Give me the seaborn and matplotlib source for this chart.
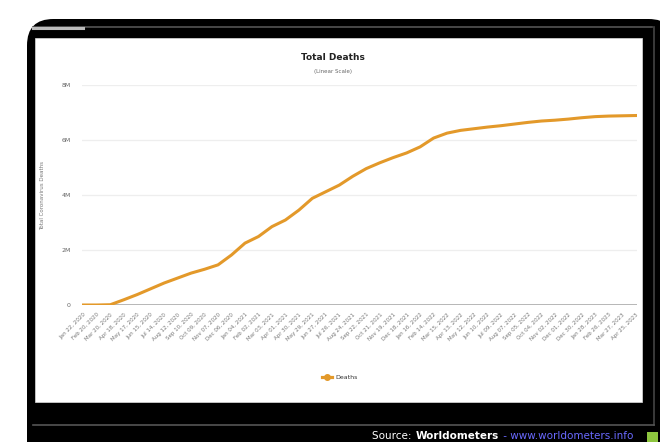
import matplotlib
matplotlib.use("Agg")
import matplotlib.pyplot as plt
from matplotlib.patches import FancyBboxPatch, Rectangle
from matplotlib.lines import Line2D
import seaborn as sns
import pandas as pd

# ---- data ----
date_labels = [
    "Jan 22, 2020", "Feb 20, 2020", "Mar 20, 2020", "Apr 18, 2020", "May 17, 2020",
    "Jun 15, 2020", "Jul 14, 2020", "Aug 12, 2020", "Sep 10, 2020", "Oct 09, 2020",
    "Nov 07, 2020", "Dec 06, 2020", "Jan 04, 2021", "Feb 02, 2021", "Mar 03, 2021",
    "Apr 01, 2021", "Apr 30, 2021", "May 29, 2021", "Jun 27, 2021", "Jul 26, 2021",
    "Aug 24, 2021", "Sep 22, 2021", "Oct 21, 2021", "Nov 19, 2021", "Dec 18, 2021",
    "Jan 16, 2022", "Feb 14, 2022", "Mar 15, 2022", "Apr 13, 2022", "May 12, 2022",
    "Jun 10, 2022", "Jul 09, 2022", "Aug 07, 2022", "Sep 05, 2022", "Oct 04, 2022",
    "Nov 02, 2022", "Dec 01, 2022", "Dec 30, 2022", "Jan 28, 2023", "Feb 26, 2023",
    "Mar 27, 2023", "Apr 25, 2023",
]
deaths_millions = [
    0.00, 0.00, 0.01, 0.19, 0.38, 0.59, 0.80, 0.98, 1.16, 1.30,
    1.46, 1.82, 2.25, 2.49, 2.85, 3.09, 3.45, 3.88, 4.12, 4.36,
    4.68, 4.96, 5.17, 5.36, 5.53, 5.75, 6.07, 6.25, 6.35, 6.41,
    6.47, 6.52, 6.58, 6.64, 6.69, 6.72, 6.76, 6.81, 6.85, 6.87,
    6.88, 6.89,
]
y_ticks = [0, 2e6, 4e6, 6e6, 8e6]
y_tick_labels = ["0", "2M", "4M", "6M", "8M"]
series_name = "Deaths"

df = pd.DataFrame({
    "idx": list(range(len(date_labels))),
    "deaths": [v * 1e6 for v in deaths_millions],
})

W, H = 660, 442
fig = plt.figure(figsize=(W / 100, H / 100), dpi=100, facecolor="white")

def px_box(x0, y0, x1, y1):
    return (x0 / W, 1 - y1 / H, (x1 - x0) / W, (y1 - y0) / H)

# black rounded frame
bx, by, bw, bh = px_box(27, 19, 675, 470)
fig.patches.append(FancyBboxPatch((bx, by), bw, bh,
                                  boxstyle="round,pad=0,rounding_size=0.04",
                                  transform=fig.transFigure, facecolor="black",
                                  edgecolor="none", zorder=0, mutation_aspect=W / H))
# gray lines of the frame
fig.add_artist(Line2D([33 / W, 652 / W], [1 - 27 / H] * 2, color="#555555", lw=1.2,
                      transform=fig.transFigure, zorder=1))
fig.add_artist(Line2D([33 / W, 83 / W], [1 - 28 / H] * 2, color="#bbbbbb", lw=2.2,
                      transform=fig.transFigure, zorder=1))
fig.add_artist(Line2D([654 / W, 654 / W], [1 - 27 / H, 1 - 425 / H], color="#444444", lw=1.2,
                      transform=fig.transFigure, zorder=1))
fig.add_artist(Line2D([33 / W, 654 / W], [1 - 425 / H] * 2, color="#555555", lw=1.2,
                      transform=fig.transFigure, zorder=1))
# white panel
px, py, pw, ph = px_box(35, 38, 642, 402)
fig.patches.append(Rectangle((px, py), pw, ph, transform=fig.transFigure,
                             facecolor="white", edgecolor="#dddddd", lw=0.5, zorder=1))

# ---- axes ----
ax = fig.add_axes(px_box(82, 85, 637, 305), zorder=2)
ax.set_facecolor("none")
line_color = "#E3992A"
sns.lineplot(data=df, x="idx", y="deaths", ax=ax, color=line_color, lw=2.2,
             legend=False)
ax.set_xlim(-0.1, len(date_labels) - 1 + 0.1)
ax.set_ylim(0, 8e6)
ax.set_yticks(y_ticks)
ax.set_yticklabels(y_tick_labels, fontsize=4.5, color="#666666")
ax.set_xticks(range(len(date_labels)))
ax.set_xticklabels(date_labels, rotation=45, ha="right", rotation_mode="anchor",
                   fontsize=4, color="#777777")
ax.tick_params(axis="both", length=0, pad=8)
ax.tick_params(axis="x", pad=5)
for v in y_ticks[1:]:
    ax.axhline(v, color="#eeeeee", lw=0.9, zorder=0)
ax.axhline(0, color="#aaaaaa", lw=1.2, zorder=1)
for s in ax.spines.values():
    s.set_visible(False)
ax.set_xlabel("")
ax.set_ylabel("Total Coronavirus Deaths", fontsize=4, color="#777777", labelpad=12)

# titles
fig.text(333 / W, 1 - 57 / H, "Total Deaths", ha="center", va="center",
         fontsize=6.5, color="#222222", fontweight="semibold", zorder=3)
fig.text(333 / W, 1 - 71 / H, "(Linear Scale)", ha="center", va="center",
         fontsize=4, color="#666666", zorder=3)

# legend
handle = Line2D([], [], color=line_color, lw=2.3, marker="o", markersize=4)
fig.legend([handle], [series_name], loc="center", bbox_to_anchor=(340 / W, 1 - 377 / H),
           frameon=False, fontsize=4.5, handlelength=1.6, handletextpad=0.6,
           labelcolor="#333333")

# source line at bottom
fig.canvas.draw()
renderer = fig.canvas.get_renderer()
y_src = 1 - 441 / H
parts = [("Source: ", "white", "normal"),
         ("Worldometers", "white", "bold"),
         (" - www.worldometers.info", "#6a6aff", "normal")]
x_cur = 372 / W
for txt, col, wt in parts:
    t = fig.text(x_cur, y_src, txt, ha="left", va="bottom", fontsize=7.5,
                 color=col, fontweight=wt, zorder=3)
    bb = t.get_window_extent(renderer=renderer)
    x_cur = bb.x1 / W + 1 / W
fig.patches.append(Rectangle((647 / W, 0), 11 / W, 10 / H, transform=fig.transFigure,
                             facecolor="#8ec63f", edgecolor="none", zorder=3))

fig.savefig("out.png", dpi=100, facecolor="white")
